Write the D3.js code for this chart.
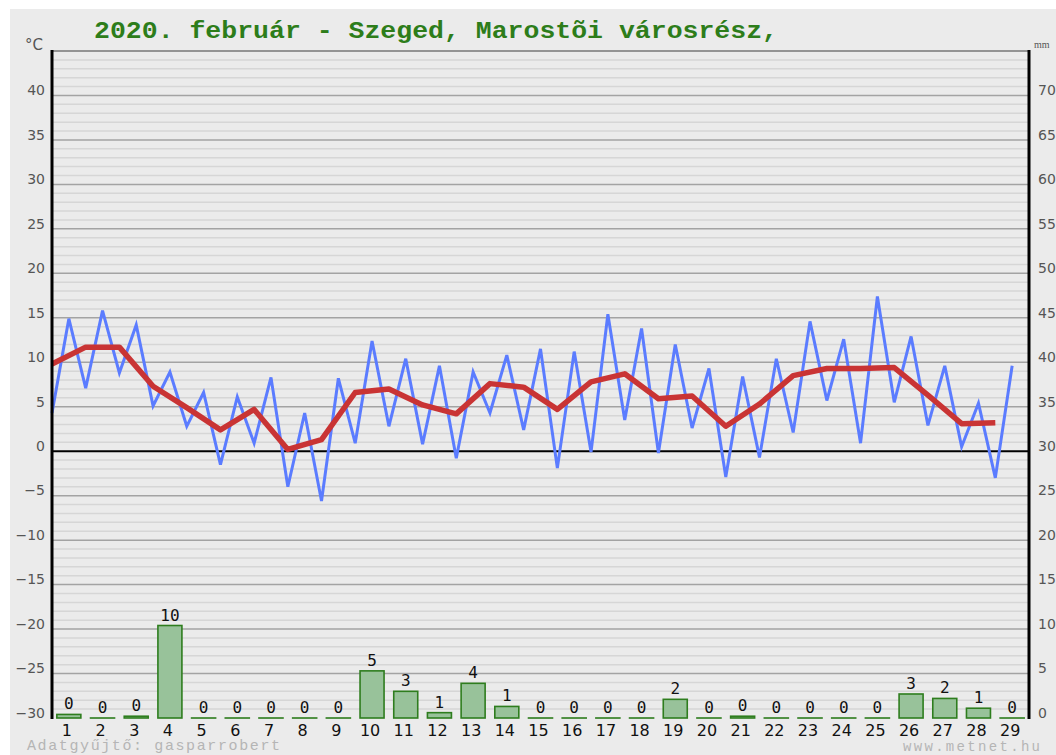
<!DOCTYPE html>
<html><head><meta charset="utf-8">
<script src="https://cdn.jsdelivr.net/npm/d3@7"></script>
<style>body{margin:0;background:#fff}svg{display:block}</style>
</head><body><svg id="c" width="1056" height="755"></svg>
<script>
const days = ["1","2","3","4","5","6","7","8","9","10","11","12","13","14","15","16","17","18","19","20","21","22","23","24","25","26","27","28","29"];
const tMin  = [4.3,7.1,8.8,5.1,2.8,-1.5,0.9,-4.0,-5.6,0.9,2.8,0.8,-0.8,4.3,2.4,-1.9,-0.1,3.5,-0.2,2.6,-2.9,-0.7,2.1,5.7,0.9,5.5,2.9,0.5,-3.0];
const tMax  = [14.9,15.8,14.2,8.9,6.6,6.1,8.3,4.3,8.2,12.4,10.4,9.6,8.9,10.8,11.5,11.2,15.4,13.8,12.0,9.3,8.4,10.4,14.6,12.6,17.4,12.9,9.6,5.4,9.6];
const tMean = [9.8,11.7,11.7,7.3,4.9,2.4,4.7,0.2,1.3,6.6,7.0,5.2,4.2,7.6,7.2,4.7,7.8,8.7,5.9,6.2,2.8,5.3,8.5,9.3,9.3,9.4,6.3,3.1,3.2];
const precip = [0.4,0,0.2,10.4,0,0,0,0,0,5.3,3.0,0.6,3.9,1.3,0,0,0,0,2.1,0,0.2,0,0,0,0,2.7,2.2,1.1,0];
const tempTicks = [-30,-25,-20,-15,-10,-5,0,5,10,15,20,25,30,35,40];
const mmTicks = [0,5,10,15,20,25,30,35,40,45,50,55,60,65,70];
const titleText = "2020. február - Szeged, Marostõi városrész,";

const svg = d3.select("#c");
const L = 52, R = 1029, T = 51, B = 718;

const x = d3.scaleBand().domain(days).range([L, R]).padding(0);
const bw = x.bandwidth();
const y = d3.scaleLinear().domain([-30, 45]).range([B, T]);
const yMM = d3.scaleLinear().domain([0, 75]).range([B, T]);

// background
svg.append("rect").attr("x", 10).attr("y", 9).attr("width", 1046).attr("height", 746).attr("fill", "#ebebeb");

// grid
const minor = d3.range(-30, 46, 1).filter(v => v % 5 !== 0);
svg.append("g").selectAll("line").data(minor).join("line")
  .attr("x1", L).attr("x2", R).attr("y1", d => y(d)).attr("y2", d => y(d))
  .attr("stroke", "#d6d6d6").attr("stroke-width", 1.5);
const major = d3.range(-25, 46, 5).filter(v => v !== 0);
svg.append("g").selectAll("line").data(major).join("line")
  .attr("x1", L).attr("x2", R).attr("y1", d => y(d)).attr("y2", d => y(d))
  .attr("stroke", "#a3a3a3").attr("stroke-width", 1.5);
svg.append("line").attr("x1", L).attr("x2", R).attr("y1", y(0)).attr("y2", y(0))
  .attr("stroke", "#000").attr("stroke-width", 2);

// axes labels
const leftAxis = d3.axisLeft(y).tickValues(tempTicks).tickSize(0).tickPadding(0);
const gl = svg.append("g").attr("transform", `translate(${L - 7},0)`).call(leftAxis);
gl.select(".domain").remove();
gl.selectAll("text").attr("dy", "-0.05em").attr("fill", "#555")
  .style("font-family", "DejaVu Sans, sans-serif").style("font-size", "14px");

const rightAxis = d3.axisRight(yMM).tickValues(mmTicks).tickSize(0).tickPadding(0);
const gr = svg.append("g").attr("transform", `translate(${R + 9},0)`).call(rightAxis);
gr.select(".domain").remove();
gr.selectAll("text").attr("dy", "-0.05em").attr("fill", "#555")
  .style("font-family", "DejaVu Sans, sans-serif").style("font-size", "14px");

svg.append("text").attr("x", 25).attr("y", 50).text("°C").attr("fill", "#555")
  .style("font-family", "DejaVu Sans, sans-serif").style("font-size", "15px");
svg.append("text").attr("x", 1034).attr("y", 48).text("mm").attr("fill", "#555")
  .style("font-family", "Liberation Serif, serif").style("font-size", "10px");

// precipitation bars
const barW = 24;
svg.append("g").selectAll("rect").data(precip).join("rect")
  .attr("x", (d, i) => x(days[i]) + bw / 2 - barW / 2)
  .attr("y", d => yMM(d))
  .attr("width", barW)
  .attr("height", d => Math.max(B - yMM(d), 0.01))
  .attr("fill", "#98c29a").attr("stroke", "#2e7d1e").attr("stroke-width", 1.6);

svg.append("g").selectAll("text").data(precip).join("text")
  .attr("x", (d, i) => x(days[i]) + bw / 2)
  .attr("y", d => yMM(d) - 5)
  .attr("text-anchor", "middle")
  .text(d => Math.round(d))
  .attr("fill", "#111")
  .style("font-family", "DejaVu Sans Mono, monospace").style("font-size", "16px");

// temperature lines
const bluePts = [];
days.forEach((d, i) => { bluePts.push([x(d), tMin[i]]); bluePts.push([x(d) + bw / 2, tMax[i]]); });
svg.append("path").datum(bluePts)
  .attr("d", d3.line().x(p => p[0]).y(p => y(p[1])))
  .attr("fill", "none").attr("stroke", "#5b7cff").attr("stroke-width", 3).attr("stroke-linejoin", "miter");

svg.append("path").datum(tMean)
  .attr("d", d3.line().x((v, i) => x(days[i])).y(v => y(v)))
  .attr("fill", "none").attr("stroke", "#c93434").attr("stroke-width", 5.5).attr("stroke-linejoin", "round");

// frame
svg.append("line").attr("x1", L).attr("x2", R).attr("y1", T).attr("y2", T).attr("stroke", "#8a8a8a").attr("stroke-width", 1.5);
svg.append("line").attr("x1", L).attr("x2", L).attr("y1", T - 1).attr("y2", B + 1).attr("stroke", "#000").attr("stroke-width", 3);
svg.append("line").attr("x1", R).attr("x2", R).attr("y1", T - 1).attr("y2", B + 1).attr("stroke", "#000").attr("stroke-width", 3);

// day labels
const xAxis = d3.axisBottom(x).tickSize(0).tickPadding(0);
const gx = svg.append("g").attr("transform", `translate(-2,${B + 4})`).call(xAxis);
gx.select(".domain").remove();
gx.selectAll("text").attr("dy", "0.85em").attr("fill", "#111")
  .style("font-family", "DejaVu Sans, sans-serif").style("font-size", "16px");

// title
svg.append("text").attr("x", 94).attr("y", 38).text(titleText)
  .attr("textLength", 684).attr("lengthAdjust", "spacingAndGlyphs")
  .attr("fill", "#2d7d1a").style("font-weight", "bold")
  .style("font-family", "Liberation Mono, monospace").style("font-size", "23px");

// footer
svg.append("text").attr("x", 27).attr("y", 750).text("Adatgyűjtő: gasparrobert")
  .attr("textLength", 253).attr("lengthAdjust", "spacing")
  .attr("fill", "#b5b5b5").style("font-family", "Liberation Mono, monospace").style("font-size", "15px");
svg.append("text").attr("x", 1040).attr("y", 751).attr("text-anchor", "end").text("www.metnet.hu")
  .attr("textLength", 137).attr("lengthAdjust", "spacing")
  .attr("fill", "#b5b5b5").style("font-family", "Liberation Mono, monospace").style("font-size", "14px");
</script></body></html>
